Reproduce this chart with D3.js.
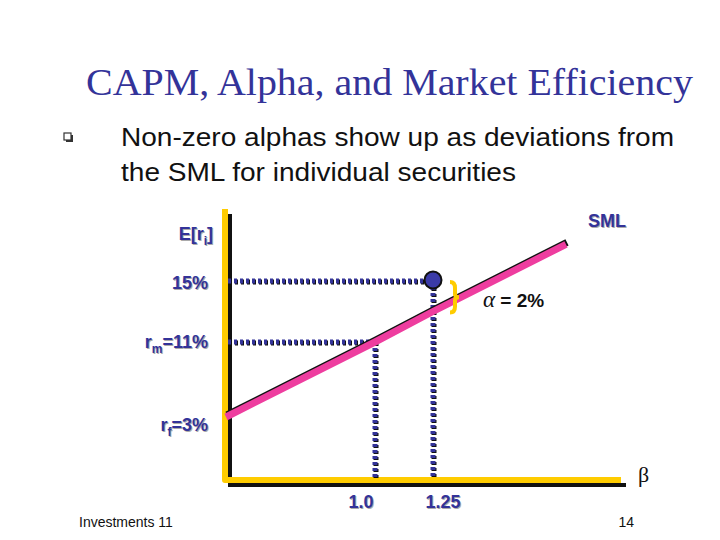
<!DOCTYPE html>
<html>
<head>
<meta charset="utf-8">
<title>CAPM, Alpha, and Market Efficiency</title>
<script src="https://cdn.jsdelivr.net/npm/d3@7"></script>
<style>
  body { margin: 0; background: #fff; }
  svg { display: block; }
</style>
</head>
<body>
<script>
// data
var betaTicks = [1.0, 1.25];
var betaLabels = ["1.0", "1.25"];
var returnTicks = [15, 11, 3];
var rf = 3, rm = 11;
var securityBeta = 1.25, securityReturn = 15;
var smlBetas = [0, 1, 1.25, 1.81];
var bulletLines = ["Non-zero alphas show up as deviations from", "the SML for individual securities"];

var width = 720, height = 540;
var navy = "#333399", yellow = "#ffcc00", pink = "#ee3d9f";

var svg = d3.select("body").append("svg")
  .attr("width", width).attr("height", height);

// the slide drawing is schematic, so the scales are piecewise
var x = d3.scaleLinear().domain([0, 1, 1.25, 1.81, 2.7]).range([226, 375, 433, 566, 622]);
var y = d3.scaleLinear().domain([0, 3, 11, 15, 17.5]).range([481, 417, 342, 281, 244]);

// title and bullet
svg.append("text").attr("x", 86).attr("y", 95)
  .style("font-family", "Liberation Serif, serif").style("font-size", "38px")
  .attr("textLength", 607).attr("lengthAdjust", "spacingAndGlyphs")
  .attr("fill", navy).text("CAPM, Alpha, and Market Efficiency");

svg.append("rect").attr("x", 65).attr("y", 134).attr("width", 7).attr("height", 7)
  .attr("fill", "#333").attr("transform", "translate(1,1)");
svg.append("rect").attr("x", 64).attr("y", 133).attr("width", 7).attr("height", 7)
  .attr("fill", "#fff").attr("stroke", "#333").attr("stroke-width", 1.2);

var bulletWidths = [553, 395];
svg.selectAll("text.bullet").data(bulletLines).enter().append("text")
  .attr("class", "bullet")
  .attr("x", 121).attr("y", function(d, i) { return 146 + i * 35; })
  .attr("textLength", function(d, i) { return bulletWidths[i]; })
  .attr("lengthAdjust", "spacingAndGlyphs")
  .style("font-family", "Liberation Sans, Arial, sans-serif").style("font-size", "26px")
  .attr("fill", "#111").text(function(d) { return d; });

// axes: black shadow then yellow
var axisPath = "M" + x(0) + "," + 210 + "V" + y(0) + "H" + x(2.7);
svg.append("path").attr("d", axisPath).attr("transform", "translate(4,4)")
  .attr("fill", "none").attr("stroke", "#111").attr("stroke-width", 4);
svg.append("path").attr("d", axisPath).attr("transform", "translate(-1,-1)")
  .attr("fill", "none").attr("stroke", yellow).attr("stroke-width", 6)
  .attr("stroke-linejoin", "round");

// dotted guide lines
function guide(x1, y1, x2, y2) {
  svg.append("line").attr("x1", x1).attr("y1", y1).attr("x2", x2).attr("y2", y2)
    .attr("stroke", "#111").attr("stroke-width", 5).attr("stroke-dasharray", "3,3")
    .attr("transform", "translate(1,1)");
  svg.append("line").attr("x1", x1).attr("y1", y1).attr("x2", x2).attr("y2", y2)
    .attr("stroke", navy).attr("stroke-width", 5).attr("stroke-dasharray", "3,3");
}
guide(x(0) + 2, y(securityReturn), x(securityBeta) - 6, y(securityReturn));
guide(x(0) + 2, y(rm), x(1), y(rm));
guide(x(1), y(rm), x(1), y(0) - 3);
guide(x(securityBeta), y(securityReturn) + 6, x(securityBeta), y(0) - 3);

// SML
var sml = d3.line()
  .x(function(d) { return x(d); })
  .y(function(d) { return y(rf + (rm - rf) * d); });
svg.append("path").datum(smlBetas).attr("d", sml).attr("transform", "translate(1,-2)")
  .attr("fill", "none").attr("stroke", "#111").attr("stroke-width", 7);
svg.append("path").datum(smlBetas).attr("d", sml)
  .attr("fill", "none").attr("stroke", pink).attr("stroke-width", 7);

// security point
svg.append("circle").attr("cx", x(securityBeta)).attr("cy", y(securityReturn) - 1).attr("r", 8.5)
  .attr("fill", "#3b3ba8").attr("stroke", "#111").attr("stroke-width", 2);

// alpha brace
var bx = x(securityBeta) + 17, bt = y(securityReturn) + 1, bb = y(rf + (rm - rf) * securityBeta) + 1;
var bm = (bt + bb) / 2;
svg.append("path")
  .attr("d", "M" + bx + "," + bt + "Q" + (bx + 5) + "," + bt + " " + (bx + 5) + "," + (bt + 6) +
    "V" + (bm - 3) + "Q" + (bx + 5) + "," + bm + " " + (bx + 9) + "," + bm +
    "Q" + (bx + 5) + "," + bm + " " + (bx + 5) + "," + (bm + 3) +
    "V" + (bb - 6) + "Q" + (bx + 5) + "," + bb + " " + bx + "," + bb)
  .attr("fill", "none").attr("stroke", yellow).attr("stroke-width", 4);

var alphaText = svg.append("text").attr("x", 483).attr("y", 307)
  .attr("fill", "#111");
alphaText.append("tspan").style("font-family", "Liberation Serif, serif")
  .style("font-style", "italic").style("font-size", "23px").text("α");
alphaText.append("tspan").style("font-family", "Liberation Sans, Arial, sans-serif")
  .style("font-weight", "bold").style("font-size", "19px")
  .text(" = 2%");

// labels with shadow
function label(px, py, parts, anchor, size) {
  [["#aaa", 1], [navy, 0]].forEach(function(s) {
    var t = svg.append("text").attr("x", px + s[1]).attr("y", py + s[1])
      .attr("text-anchor", anchor)
      .style("font-family", "Liberation Sans, Arial, sans-serif")
      .style("font-weight", "bold").style("font-size", (size || 18) + "px")
      .attr("fill", s[0]);
    parts.forEach(function(p) {
      var ts = t.append("tspan").text(p[0]);
      if (p[1]) ts.attr("dy", p[1]);
      if (p[1] > 0) ts.style("font-size", "12px");
    });
  });
}
label(213, 240, [["E[r"], ["i", 5], ["]", -5]], "end");
label(208, y(15) + 8, [["15%"]], "end");
label(208, y(11) + 6, [["r"], ["m", 5], ["=11%", -5]], "end");
label(208, y(3) + 14, [["r"], ["f", 5], ["=3%", -5]], "end");
label(626, 227, [["SML"]], "end");
betaTicks.forEach(function(b, i) {
  label(x(b) + (i === 0 ? -14 : 10), 508, [[betaLabels[i]]], "middle");
});

svg.append("text").attr("x", 638).attr("y", 482)
  .style("font-family", "Liberation Serif, serif").style("font-size", "22px")
  .attr("fill", "#111").text("β");

// footer
svg.append("text").attr("x", 79).attr("y", 527)
  .style("font-family", "Liberation Sans, Arial, sans-serif").style("font-size", "14px")
  .attr("fill", "#111").text("Investments 11");
svg.append("text").attr("x", 634).attr("y", 527).attr("text-anchor", "end")
  .style("font-family", "Liberation Sans, Arial, sans-serif").style("font-size", "14px")
  .attr("fill", "#111").text("14");
</script>
</body>
</html>
